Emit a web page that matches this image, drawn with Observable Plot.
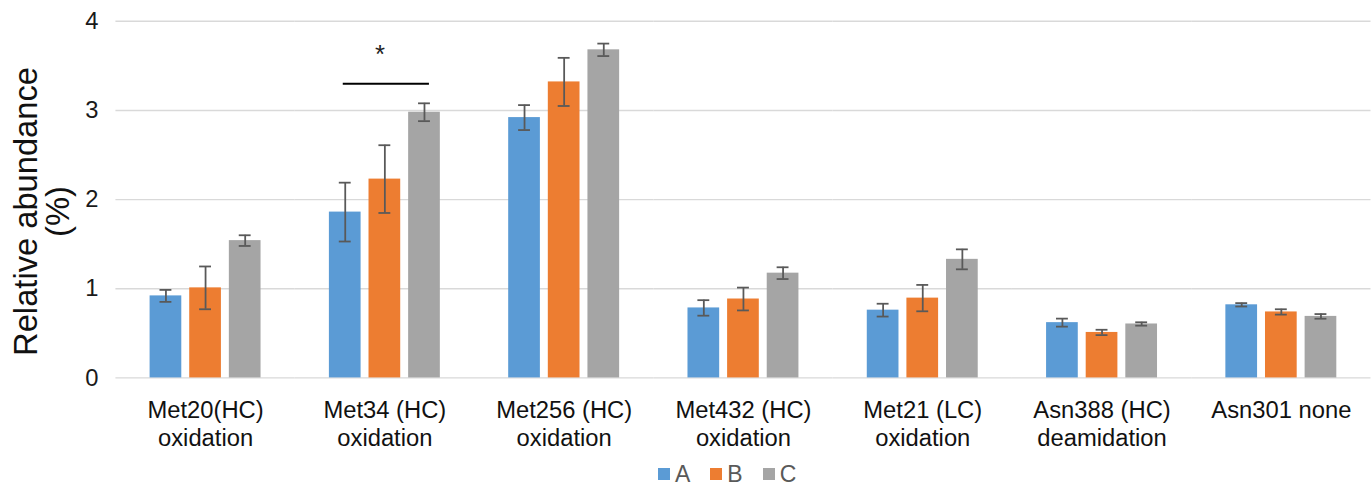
<!DOCTYPE html>
<html><head><meta charset="utf-8">
<script src="https://cdn.jsdelivr.net/npm/d3@7"></script>
<script src="https://cdn.jsdelivr.net/npm/@observablehq/plot@0.6"></script>
<style>
html,body{margin:0;padding:0;background:#fff;overflow:hidden;width:1371px;height:488px;position:relative;}
#chart{position:absolute;left:0;top:0;}
#legend{position:absolute;top:462px;left:658px;display:flex;align-items:center;font:23px "Liberation Sans",Arial,sans-serif;color:#595959;line-height:24px;}
#legend .item{display:flex;align-items:center;margin-right:20px;}
#legend .sw{width:12px;height:12px;margin-right:5px;}
</style></head><body>
<div id="chart"></div><div id="legend"></div>
<script>
const categories = ["Met20(HC)\noxidation", "Met34 (HC)\noxidation", "Met256 (HC)\noxidation", "Met432 (HC)\noxidation", "Met21 (LC)\noxidation", "Asn388 (HC)\ndeamidation", "Asn301 none"];
const series = ["A", "B", "C"];
const colors = ["#5B9BD5", "#ED7D31", "#A5A5A5"];
const valuesA = [0.92, 1.86, 2.92, 0.785, 0.76, 0.62, 0.82];
const valuesB = [1.01, 2.23, 3.32, 0.885, 0.895, 0.51, 0.74];
const valuesC = [1.54, 2.98, 3.68, 1.175, 1.33, 0.605, 0.69];
const errA = [0.067, 0.33, 0.14, 0.087, 0.072, 0.045, 0.019];
const errB = [0.24, 0.38, 0.27, 0.128, 0.148, 0.03, 0.03];
const errC = [0.06, 0.10, 0.07, 0.066, 0.112, 0.019, 0.026];
const yTicks = [0, 1, 2, 3, 4];
const yTitle = "Relative abundance\n(%)";
const significance = [{cat: "Met34 (HC)\noxidation", from: "A", to: "C", mid: "B", lineY: 3.3, starY: 3.62, label: "*"}];

const vals = [valuesA, valuesB, valuesC];
const errs = [errA, errB, errC];
const rows = [];
categories.forEach((c, i) => series.forEach((s, j) => {
  rows.push({cat: c, series: s, value: vals[j][i], lo: vals[j][i] - errs[j][i], hi: vals[j][i] + errs[j][i]});
}));

const W = 1384, ML = 117, MR = 0;
const fxPadInner = 0.337;
const step = (W - ML - MR) / categories.length;
const gap = step * fxPadInner / 2;
const font = '"Liberation Sans", Arial, sans-serif';

const chart = Plot.plot({
  width: W, height: 468,
  marginLeft: ML, marginRight: MR, marginTop: 21, marginBottom: 87,
  style: {fontFamily: font, background: "#fff", overflow: "visible"},
  fx: {domain: categories, paddingInner: fxPadInner, paddingOuter: fxPadInner / 2, label: null},
  x: {domain: series, paddingInner: 0.2, paddingOuter: 0.1, axis: null},
  y: {domain: [0, 4], label: null},
  color: {domain: series, range: colors},
  marks: [
    Plot.ruleY(yTicks, {stroke: "#D9D9D9", strokeWidth: 1.4, insetLeft: -gap, insetRight: -gap}),
    Plot.barY(rows, {fx: "cat", x: "series", y: "value", fill: "series"}),
    Plot.ruleX(rows, {fx: "cat", x: "series", y1: "lo", y2: "hi", stroke: "#595959", strokeWidth: 1.8}),
    Plot.tickY(rows, {fx: "cat", x: "series", y: "hi", stroke: "#595959", strokeWidth: 1.8, insetLeft: 10, insetRight: 10}),
    Plot.tickY(rows, {fx: "cat", x: "series", y: "lo", stroke: "#595959", strokeWidth: 1.8, insetLeft: 10, insetRight: 10}),
    Plot.ruleY(significance, {fx: "cat", x1: "from", x2: "to", y: "lineY", stroke: "#000", strokeWidth: 2, insetLeft: 14, insetRight: 11}),
    Plot.text(significance, {fx: "cat", x: "mid", y: "starY", text: "label", fontSize: 26, fill: "#222", dx: -5}),
    Plot.axisY({ticks: yTicks, tickFormat: d3.format("d"), tickSize: 0, tickPadding: 48, fontSize: 24, fill: "#1a1a1a", label: null}),
    Plot.axisY({ticks: [], tickSize: 0, fontSize: 33, fill: "#111", label: yTitle, labelArrow: "none", labelAnchor: "center", labelOffset: 134}),
    Plot.axisFx({anchor: "bottom", tickSize: 0, tickPadding: 21, fontSize: 24, lineHeight: 1.17, fill: "#111", label: null})
  ]
});
document.getElementById("chart").appendChild(chart);

const lab = chart.querySelector('g[aria-label="y-axis label"]');
if (lab) lab.setAttribute("transform", "translate(0,12) " + (lab.getAttribute("transform") || ""));

const legend = document.getElementById("legend");
series.forEach((s, i) => {
  const it = document.createElement("div"); it.className = "item";
  const sw = document.createElement("div"); sw.className = "sw"; sw.style.background = colors[i];
  const t = document.createElement("span"); t.textContent = s;
  it.appendChild(sw); it.appendChild(t); legend.appendChild(it);
});
</script>
</body></html>
